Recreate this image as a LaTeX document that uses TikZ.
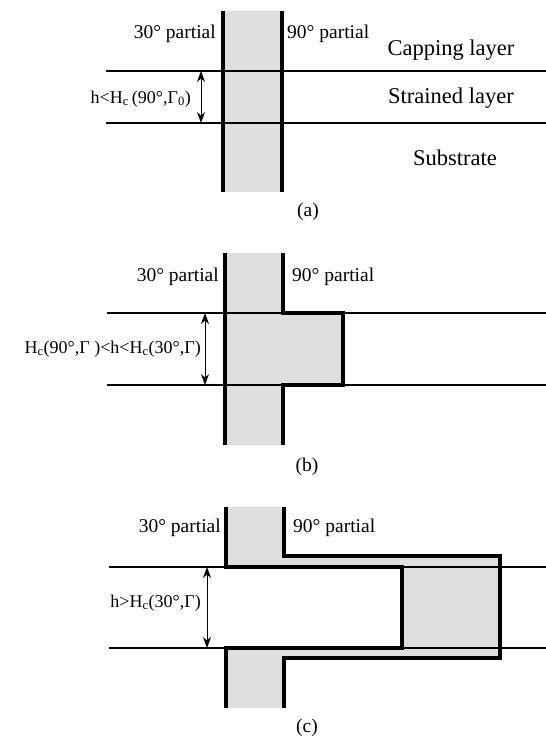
\documentclass[tikz,border=0pt]{standalone}
\usepackage{fontspec}
\setmainfont{Liberation Serif}
\usetikzlibrary{arrows.meta}
\begin{document}
\begin{tikzpicture}[x=1pt,y=-1pt,
  disl/.style={line width=3.2pt,line join=miter},
  layer/.style={line width=1.6pt},
  gfill/.style={fill=black!13},
  dim/.style={line width=1pt,{Stealth[length=11pt,width=8pt]}-{Stealth[length=11pt,width=8pt]}},
  lbl/.style={inner sep=0pt,font=\fontsize{19.5}{22}\selectfont},
  big/.style={inner sep=0pt,font=\fontsize{22.5}{26}\selectfont},
  cond/.style={inner sep=0pt,font=\fontsize{18}{21}\selectfont,anchor=east},
]
\useasboundingbox (0,0) rectangle (546,740);
% ---------- panel (a)
\fill[gfill] (223,11) rectangle (282,192);
\draw[layer] (106,71) -- (546,71);
\draw[layer] (106,123) -- (546,123);
\draw[disl] (223,11) -- (223,192);
\draw[disl] (282,11) -- (282,192);
\coordinate (a1) at (201,71);
\coordinate (a2) at (201,123);
\draw[dim] (a1) -- (a2);
\node[cond] (ca) at (191,99) {h<H\textsubscript{c}\,(90°,Γ\textsubscript{0})};
\node[lbl,anchor=east] (p30a) at (216,34) {30° partial};
\node[lbl,anchor=west] (p90a) at (287,34) {90° partial};
\node[big] (cap) at (451,50) {Capping layer};
\node[big] (str) at (451,98) {Strained layer};
\node[big] (sub) at (455,158) {Substrate};
\node[lbl] (la) at (308,212) {(a)};
% ---------- panel (b)
\fill[gfill] (225,253) rectangle (283,445);
\fill[gfill] (283,313) rectangle (343,385);
\draw[layer] (107,313) -- (546,313);
\draw[layer] (107,385) -- (546,385);
\draw[disl] (225,253) -- (225,445);
\draw[disl] (283,253) -- (283,313) -- (343,313) -- (343,385) -- (283,385) -- (283,445);
\coordinate (b1) at (205,313);
\coordinate (b2) at (205,385);
\draw[dim] (b1) -- (b2);
\node[cond] (cb) at (201,349) {H\textsubscript{c}(90°,Γ\ )<h<H\textsubscript{c}(30°,Γ)};
\node[lbl,anchor=east] (p30b) at (219,277) {30° partial};
\node[lbl,anchor=west] (p90b) at (292,277) {90° partial};
\node[lbl] (lb) at (307,467) {(b)};
% ---------- panel (c)
\fill[gfill] (226,507) -- (284,507) -- (284,556) -- (500,556) -- (500,658) -- (284,658)
  -- (284,708) -- (226,708) -- (226,648) -- (402,648) -- (402,567) -- (226,567) -- cycle;
\draw[layer] (109,567) -- (546,567);
\draw[layer] (109,648) -- (546,648);
\draw[disl] (226,507) -- (226,567) -- (402,567) -- (402,648) -- (226,648) -- (226,708);
\draw[disl] (284,507) -- (284,556) -- (500,556) -- (500,658) -- (284,658) -- (284,708);
\coordinate (c1) at (207,567);
\coordinate (c2) at (207,648);
\draw[dim] (c1) -- (c2);
\node[cond] (cc) at (201,603) {h>H\textsubscript{c}(30°,Γ)};
\node[lbl,anchor=east] (p30c) at (221,528) {30° partial};
\node[lbl,anchor=west] (p90c) at (293,528) {90° partial};
\node[lbl] (lc) at (307,728) {(c)};
\end{tikzpicture}
\end{document}
